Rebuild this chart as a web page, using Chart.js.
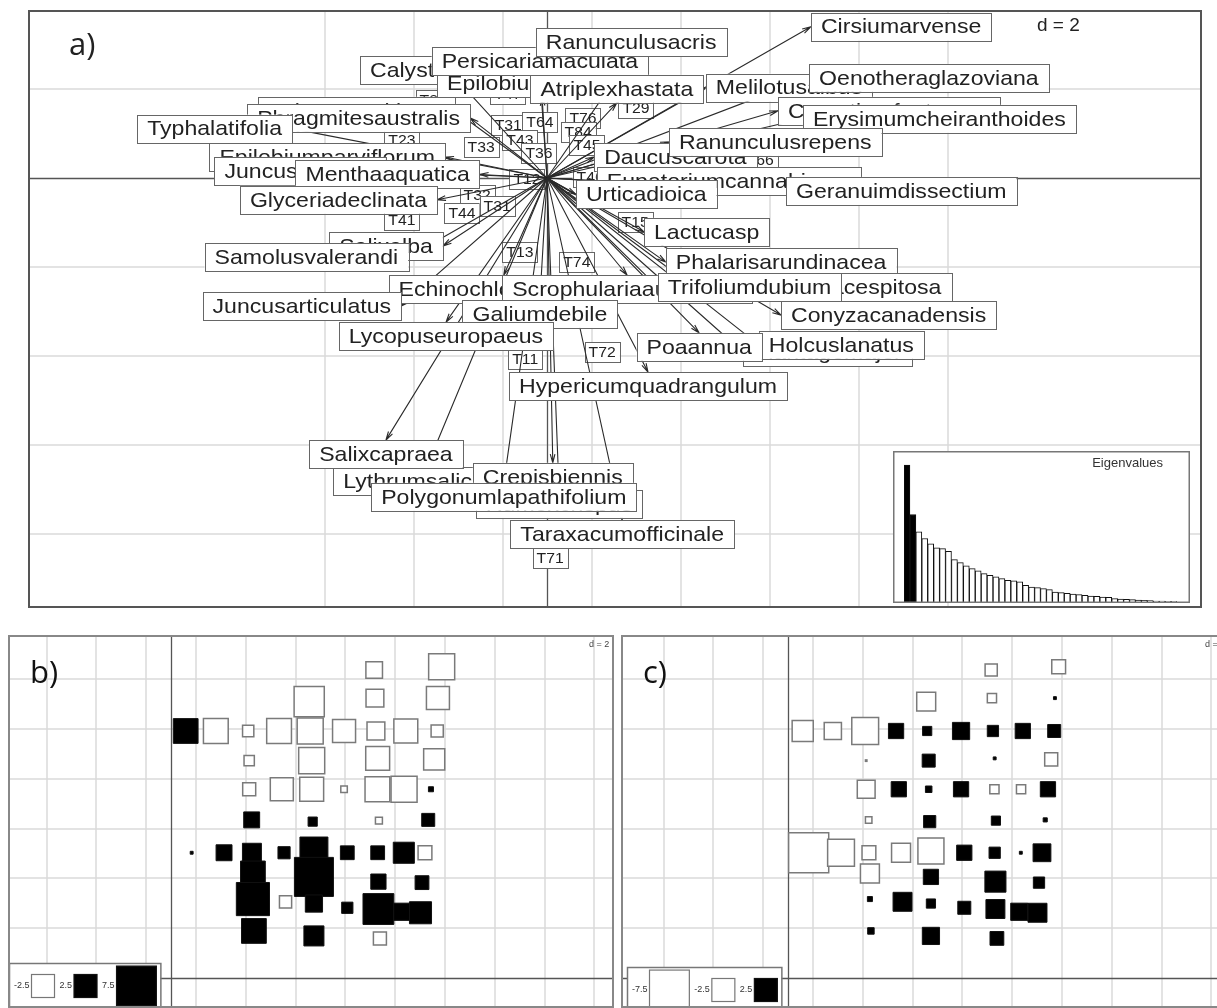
<!DOCTYPE html>
<html>
<head>
<meta charset="utf-8">
<script src="https://cdn.jsdelivr.net/npm/chart.js@4.4.0/dist/chart.umd.min.js"></script>
<style>
  html, body { margin: 0; padding: 0; background: #fff; overflow: hidden; }
  body { width: 1217px; height: 1008px; position: relative; }
  canvas { position: absolute; background: #fff; }
  #chartA { left: 28px; top: 10px; }
  #chartEig { left: 893px; top: 451px; }
  #chartB { left: 8px; top: 635px; }
  #chartC { left: 621px; top: 635px; }
</style>
</head>
<body>
<canvas id="chartA" width="1174" height="598"></canvas>
<canvas id="chartEig" width="297" height="152"></canvas>
<canvas id="chartB" width="606" height="373"></canvas>
<canvas id="chartC" width="609" height="373"></canvas>
<script>
// ---------- panel a : species arrows (tips of the loadings) ----------
var speciesNames = ["Scirpusmaritimus", "Phragmitesaustralis", "Typhalatifolia", "Epilobiumparviflorum",
  "Juncusinflexus", "Menthaaquatica", "Glyceriadeclinata", "Salixalba", "Samolusvalerandi",
  "Echinochloacrusgalli", "Juncusarticulatus", "Scrophulariaauriculata", "Galiumdebile",
  "Lycopuseuropaeus", "Calystegiasepium", "Epilobiumhirsutum", "Persicariamaculata",
  "Ranunculusacris", "Atriplexhastata", "Melilotusalbus", "Cirsiumarvense", "Oenotheraglazoviana",
  "Cerastiumfontanum", "Erysimumcheiranthoides", "Daucuscarota", "Ranunculusrepens",
  "Eupatoriumcannabinum", "Urticadioica", "Geranuimdissectium", "Lactucasp", "Phalarisarundinacea",
  "Deschampsiacespitosa", "Trifoliumdubium", "Conyzacanadensis", "Plantagomajor", "Holcuslanatus",
  "Poaannua", "Hypericumquadrangulum", "Lythrumsalicaria", "Crepisbiennis", "Rumexcrispus",
  "Polygonumlapathifolium", "Salixcapraea", "Taraxacumofficinale"];
var speciesX = [-2.07, -1.73, -5.73, -2.29, -3.62, -1.51, -2.47, -2.34, -3.12, -0.97, -3.28, 1.80, -0.16,
  -2.27, -1.93, -0.11, -0.16, 1.89, 1.57, 3.57, 5.93, 5.89, 5.19, 5.75, 1.06, 2.74, 1.12, 0.65, 5.37,
  2.18, 2.67, 3.30, 2.49, 5.26, 4.40, 4.76, 3.42, 2.27, -2.70, 0.13, 0.27, -0.97, -3.62, 1.69];
var speciesY = [1.51, 1.35, 1.11, 0.47, 0.16, 0.08, -0.49, -1.53, -1.78, -2.18, -2.88, -2.18, -2.74,
  -3.24, 2.11, 1.82, 2.31, 2.74, 1.69, 2.03, 3.40, 2.25, 1.51, 1.33, 0.47, 0.81, -0.07, -0.37, -0.29,
  -1.21, -1.89, -2.45, -2.45, -3.08, -3.91, -3.75, -3.48, -4.36, -6.49, -6.40, -7.01, -6.85, -5.89, -7.69];

// ---------- panel a : site scores ----------
var siteNamesA = ["T26", "T47", "T29", "T31", "T64", "T76", "T84", "T33", "T43", "T36", "T45", "T23",
  "T12", "T46", "T32", "T44", "T31", "T41", "T15", "T13", "T74", "T11", "T72", "T71", "T66"];
var siteXA = [-2.56, -0.88, 2.0, -0.87, -0.16, 0.81, 0.70, -1.48, -0.61, -0.18, 0.90, -3.26,
  -0.45, 0.97, -1.57, -1.91, -1.12, -3.26, 1.98, -0.61, 0.67, -0.49, 1.24, 0.07, 4.79];
var siteYA = [1.75, 1.89, 1.57, 1.19, 1.26, 1.35, 1.03, 0.70, 0.85, 0.56, 0.74, 0.85,
  -0.02, 0.02, -0.38, -0.79, -0.63, -0.94, -0.99, -1.66, -1.89, -4.07, -3.91, -8.54, 0.40];

var gridXA = [-5, -3, -1, 1, 3, 5, 7, 9];
var gridYA = [2, -2, -4, -6, -8];

// ---------- eigenvalues inset ----------
var eigenvalues = [41, 26.2, 21, 19, 17.4, 16.2, 16, 15.2, 12.7, 11.8, 10.8, 10, 9.3, 8.5, 8, 7.5, 7,
  6.5, 6.3, 6, 5, 4.5, 4.3, 4, 3.7, 3, 2.8, 2.6, 2.4, 2.2, 2, 1.8, 1.7, 1.5, 1.4, 1, 0.9, 0.8, 0.7,
  0.6, 0.5, 0.4, 0.3, 0.3, 0.2, 0.2];

// ---------- panels b and c : site map ----------
var siteX = [8.16, 10.87, 5.55, 8.19, 10.72,
  0.59, 1.80, 3.10, 4.34, 5.59, 6.95, 8.23, 9.43, 10.69,
  3.14, 5.65, 8.30, 10.57,
  3.14, 4.45, 5.65, 6.95, 8.29, 9.36, 10.44,
  3.24, 5.69, 8.35, 10.33,
  0.83, 2.13, 3.25, 4.54, 5.74, 7.08, 8.30, 9.35, 10.20,
  3.29, 5.74, 8.33, 10.08,
  3.29, 4.60, 5.74, 7.08, 8.33, 9.29, 10.02,
  3.33, 5.74, 8.39];
var siteY = [12.37, 12.50, 11.10, 11.24, 11.24,
  9.92, 9.92, 9.92, 9.92, 9.92, 9.92, 9.92, 9.92, 9.92,
  8.73, 8.73, 8.82, 8.78,
  7.58, 7.58, 7.58, 7.58, 7.58, 7.58, 7.58,
  6.35, 6.28, 6.32, 6.35,
  5.03, 5.03, 5.03, 5.03, 5.10, 5.03, 5.03, 5.03, 5.03,
  4.20, 4.06, 3.87, 3.83,
  3.17, 3.06, 2.99, 2.82, 2.77, 2.66, 2.62,
  1.89, 1.69, 1.59];
var valuesB = [-1.3, -3.2, -4.3, -1.5, -2.5,
  2.9, -2.9, -0.6, -2.9, -3.2, -2.5, -1.5, -2.7, -0.7,
  -0.5, -3.2, -2.7, -2.1,
  -0.8, -2.5, -2.7, -0.2, -2.9, -3.2, 0.12,
  1.2, 0.4, -0.23, 0.8,
  0.04, 1.2, 1.7, 0.7, 3.7, 0.9, 0.9, 2.1, -0.9,
  2.9, 7.2, 1.1, 0.9,
  5.2, -0.7, 1.4, 0.6, 4.5, 1.4, 2.3,
  2.9, 1.9, -0.8];
var valuesC = [-0.7, -0.9, -1.7, -0.4, 0.04,
  -2.1, -1.4, -3.4, 1.1, 0.4, 1.4, 0.6, 1.1, 0.8,
  -0.01, 0.8, 0.04, -0.8,
  -1.5, 1.1, 0.2, 1.1, -0.4, -0.4, 1.1,
  -0.2, 0.7, 0.4, 0.08,
  -7.6, -3.4, -0.9, -1.7, -3.2, 1.1, 0.6, 0.04, 1.5,
  -1.7, 1.1, 2.1, 0.6,
  0.12, 1.7, 0.4, 0.8, 1.7, 1.4, 1.7,
  0.2, 1.4, 0.9];
var legendB = [-2.5, 2.5, 7.5];
var legendC = [-7.5, -2.5, 2.5];
var gridXB = [-5, -3, -1, 1, 3, 5, 7, 9, 11, 13, 15, 17];
var gridYB = [2, 4, 6, 8, 10, 12];

// ---------- helpers ----------
var FONT = '"Liberation Sans", Arial, sans-serif';

function squareSide(v) {
  return 23 * Math.sqrt(Math.abs(v) / 2.5);
}

function drawGrid(chart, xs, ys) {
  var ctx = chart.ctx, a = chart.chartArea;
  var sx = chart.scales.x, sy = chart.scales.y;
  ctx.save();
  ctx.strokeStyle = '#dadada';
  ctx.lineWidth = 1.5;
  xs.forEach(function (v) {
    var p = Math.round(sx.getPixelForValue(v));
    ctx.beginPath(); ctx.moveTo(p, a.top); ctx.lineTo(p, a.bottom); ctx.stroke();
  });
  ys.forEach(function (v) {
    var p = Math.round(sy.getPixelForValue(v));
    ctx.beginPath(); ctx.moveTo(a.left, p); ctx.lineTo(a.right, p); ctx.stroke();
  });
  // axes through the origin
  ctx.strokeStyle = '#555';
  ctx.lineWidth = 1.3;
  var ox = Math.round(sx.getPixelForValue(0)) + 0.5, oy = Math.round(sy.getPixelForValue(0)) + 0.5;
  ctx.beginPath(); ctx.moveTo(ox, a.top); ctx.lineTo(ox, a.bottom); ctx.stroke();
  ctx.beginPath(); ctx.moveTo(a.left, oy); ctx.lineTo(a.right, oy); ctx.stroke();
  ctx.restore();
}

function boxedText(ctx, text, x, y, w, h, stretch) {
  ctx.fillStyle = '#fff';
  ctx.fillRect(x, y, w, h);
  ctx.strokeStyle = '#666';
  ctx.lineWidth = 1;
  ctx.strokeRect(Math.round(x) + 0.5, Math.round(y) + 0.5, Math.round(w), Math.round(h));
  ctx.save();
  ctx.translate(x + w / 2, y + h / 2 + 1);
  ctx.scale(stretch, 1);
  ctx.fillStyle = '#222';
  ctx.textAlign = 'center';
  ctx.textBaseline = 'middle';
  ctx.fillText(text, 0, 0);
  ctx.restore();
}

function drawArrow(ctx, x0, y0, x1, y1) {
  var ang = Math.atan2(y1 - y0, x1 - x0), len = 9, spread = Math.PI / 12;
  ctx.beginPath();
  ctx.moveTo(x0, y0); ctx.lineTo(x1, y1);
  ctx.moveTo(x1 - len * Math.cos(ang - spread), y1 - len * Math.sin(ang - spread));
  ctx.lineTo(x1, y1);
  ctx.lineTo(x1 - len * Math.cos(ang + spread), y1 - len * Math.sin(ang + spread));
  ctx.stroke();
}

function frame(chart, color) {
  var ctx = chart.ctx;
  ctx.save();
  ctx.strokeStyle = color;
  ctx.lineWidth = 2;
  ctx.strokeRect(1, 1, chart.width - 2, chart.height - 2);
  ctx.restore();
}

// ---------- panel a ----------
var biplotPlugin = {
  id: 'biplot',
  beforeDatasetsDraw: function (chart) {
    var ctx = chart.ctx;
    drawGrid(chart, gridXA, gridYA);
    // sites as small boxed labels
    ctx.save();
    ctx.font = '15px ' + FONT;
    chart.getDatasetMeta(1).data.forEach(function (pt, i) {
      var w = ctx.measureText(siteNamesA[i]).width * 1.05 + 8, h = 20;
      boxedText(ctx, siteNamesA[i], pt.x - w / 2, pt.y - h / 2, w, h, 1.05);
    });
    ctx.restore();
    // arrows from the origin
    var ox = chart.scales.x.getPixelForValue(0), oy = chart.scales.y.getPixelForValue(0);
    ctx.save();
    ctx.strokeStyle = '#2a2a2a';
    ctx.lineWidth = 1.1;
    chart.getDatasetMeta(0).data.forEach(function (pt) {
      drawArrow(ctx, ox, oy, pt.x, pt.y);
    });
    ctx.restore();
  },
  afterDatasetsDraw: function (chart) {
    var ctx = chart.ctx;
    var ox = chart.scales.x.getPixelForValue(0), oy = chart.scales.y.getPixelForValue(0);
    ctx.save();
    ctx.font = '21px ' + FONT;
    chart.getDatasetMeta(0).data.forEach(function (pt, i) {
      var name = speciesNames[i];
      var w = ctx.measureText(name).width * 1.1 + 20, h = 28;
      var dx = pt.x - ox, dy = pt.y - oy, bx, by;
      if (Math.abs(dx) >= Math.abs(dy)) {
        bx = dx >= 0 ? pt.x : pt.x - w;
        by = pt.y - h / 2;
      } else {
        bx = pt.x - w / 2;
        by = dy > 0 ? pt.y : pt.y - h;
      }
      boxedText(ctx, name, bx, by, w, h, 1.1);
    });
    ctx.fillStyle = '#222';
    ctx.textBaseline = 'middle';
    ctx.font = '19px ' + FONT;
    ctx.fillText('d = 2', 1009, 16);
    ctx.font = '31px "Open Sans", sans-serif';
    ctx.textBaseline = 'alphabetic';
    ctx.fillText('a)', 41, 45);
    ctx.restore();
    frame(chart, '#555');
  }
};

var pxA = 44.5, originA = { x: 519, y: 168 };
new Chart(document.getElementById('chartA'), {
  type: 'scatter',
  data: {
    datasets: [
      { data: speciesX.map(function (x, i) { return { x: x, y: speciesY[i] }; }), pointRadius: 0 },
      { data: siteXA.map(function (x, i) { return { x: x, y: siteYA[i] }; }), pointRadius: 0 }
    ]
  },
  options: {
    responsive: false,
    animation: false,
    events: [],
    layout: { padding: 0, autoPadding: false },
    plugins: { legend: { display: false }, tooltip: { enabled: false } },
    scales: {
      x: { type: 'linear', display: false, min: -originA.x / pxA, max: (1174 - originA.x) / pxA },
      y: { type: 'linear', display: false, min: -(598 - originA.y) / pxA, max: originA.y / pxA }
    }
  },
  plugins: [biplotPlugin]
});

// ---------- eigenvalue inset ----------
var eigenPlugin = {
  id: 'eigenFrame',
  afterDraw: function (chart) {
    var ctx = chart.ctx;
    ctx.save();
    ctx.strokeStyle = '#777';
    ctx.lineWidth = 1.5;
    ctx.strokeRect(0.75, 0.75, chart.width - 1.5, chart.height - 1.5);
    ctx.fillStyle = '#333';
    ctx.font = '13px ' + FONT;
    ctx.textAlign = 'right';
    ctx.textBaseline = 'middle';
    ctx.fillText('Eigenvalues', 270, 12);
    ctx.restore();
  }
};

new Chart(document.getElementById('chartEig'), {
  type: 'bar',
  data: {
    labels: eigenvalues.map(function (v, i) { return String(i + 1); }),
    datasets: [{
      data: eigenvalues,
      backgroundColor: eigenvalues.map(function (v, i) { return i < 2 ? '#000' : '#fff'; }),
      borderColor: '#111',
      borderWidth: 1,
      barPercentage: 1,
      categoryPercentage: 1
    }]
  },
  options: {
    responsive: false,
    animation: false,
    events: [],
    layout: { padding: { left: 11, right: 13, top: 4, bottom: 1 }, autoPadding: false },
    plugins: { legend: { display: false }, tooltip: { enabled: false } },
    scales: {
      x: { display: false },
      y: { display: false, min: 0, max: 44 }
    }
  },
  plugins: [eigenPlugin]
});

// ---------- panels b and c ----------
function mapPlugin(tag, legendValues, legendLeft, legendTop) {
  return {
    id: 'map' + tag,
    beforeDatasetsDraw: function (chart) {
      drawGrid(chart, gridXB, gridYB);
    },
    afterDatasetsDraw: function (chart) {
      var ctx = chart.ctx;
      ctx.save();
      // legend of square sizes
      ctx.font = '9px ' + FONT;
      ctx.textBaseline = 'middle';
      var cx = legendLeft + 5, cy = legendTop + 23;
      legendValues.forEach(function (v) {
        cx += ctx.measureText(String(v)).width + 2;
        cx += squareSide(v) + 5;
      });
      var boxW = cx - legendLeft - 1;
      ctx.fillStyle = '#fff';
      ctx.fillRect(legendLeft, legendTop, boxW, chart.height - legendTop + 5);
      ctx.strokeStyle = '#777';
      ctx.lineWidth = 1.5;
      ctx.strokeRect(legendLeft + 0.5, legendTop + 0.5, boxW, chart.height - legendTop + 5);
      cx = legendLeft + 5;
      legendValues.forEach(function (v) {
        var t = String(v), tw = ctx.measureText(t).width, s = squareSide(v);
        ctx.fillStyle = '#333';
        ctx.fillText(t, cx, cy);
        cx += tw + 2;
        ctx.fillStyle = v > 0 ? '#000' : '#fff';
        ctx.fillRect(cx, cy - s / 2, s, s);
        ctx.strokeStyle = v > 0 ? '#111' : '#777';
        ctx.lineWidth = 1.2;
        ctx.strokeRect(cx, cy - s / 2, s, s);
        cx += s + 5;
      });
      ctx.fillStyle = '#444';
      ctx.font = '9px ' + FONT;
      ctx.textAlign = 'left';
      ctx.fillText('d = 2', chart.width - 25, 10);
      ctx.fillStyle = '#111';
      ctx.font = '31px "Open Sans", sans-serif';
      ctx.textBaseline = 'alphabetic';
      ctx.fillText(tag + ')', 22, 48);
      ctx.restore();
      frame(chart, '#888');
    }
  };
}

function makeMap(id, values, width, originX, tag, legendValues, legendLeft, legendTop) {
  var px = 24.9, originY = 343;
  new Chart(document.getElementById(id), {
    type: 'scatter',
    data: {
      datasets: [{
        data: siteX.map(function (x, i) { return { x: x, y: siteY[i], v: values[i] }; }),
        pointStyle: 'rect',
        pointRadius: function (c) { return squareSide(c.raw.v) * Math.SQRT1_2; },
        backgroundColor: function (c) { return c.raw.v > 0 ? '#000' : '#fff'; },
        borderColor: function (c) { return c.raw.v > 0 ? '#111' : '#7a7a7a'; },
        borderWidth: function (c) { return c.raw.v > 0 ? 1 : 1.5; }
      }]
    },
    options: {
      responsive: false,
      animation: false,
      events: [],
      layout: { padding: 0, autoPadding: false },
      plugins: { legend: { display: false }, tooltip: { enabled: false } },
      scales: {
        x: { type: 'linear', display: false, min: -originX / px, max: (width - originX) / px },
        y: { type: 'linear', display: false, min: -(373 - originY) / px, max: originY / px }
      }
    },
    plugins: [mapPlugin(tag, legendValues, legendLeft, legendTop)]
  });
}

makeMap('chartB', valuesB, 606, 163, 'b', legendB, 1, 328);
makeMap('chartC', valuesC, 609, 167, 'c', legendC, 6, 332);
</script>
</body>
</html>
